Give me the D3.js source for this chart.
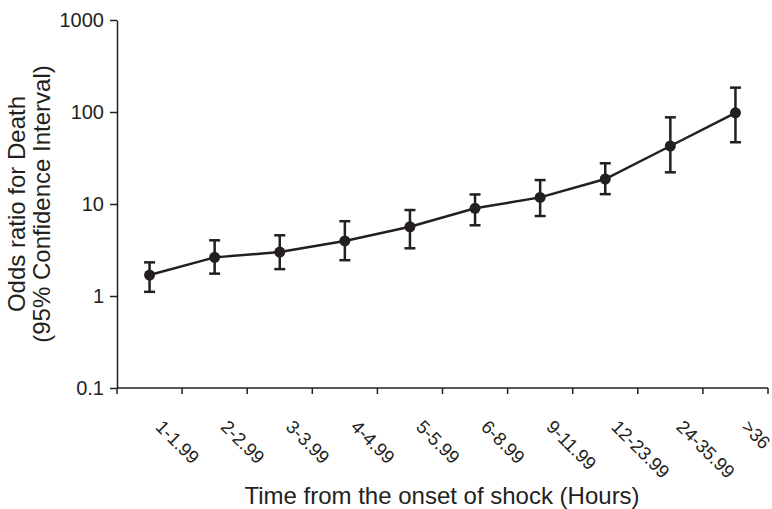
<!DOCTYPE html>
<html>
<head>
<meta charset="utf-8">
<script src="https://cdn.jsdelivr.net/npm/d3@7"></script>
<style>
  body { margin: 0; background: #fff; }
  svg { display: block; font-family: "Liberation Sans", Arial, Helvetica, sans-serif; }
  .axis path, .axis line { stroke: #231f20; stroke-width: 1.5; }
  .axis text { fill: #231f20; }
</style>
</head>
<body>
<svg width="772" height="509"></svg>
<script>
// time from onset of shock (hours)
var categories = ["1-1.99", "2-2.99", "3-3.99", "4-4.99", "5-5.99", "6-8.99", "9-11.99", "12-23.99", "24-35.99", ">36"];
// odds ratio for death with 95% CI
var oddsRatio = [1.69, 2.63, 3.0, 3.97, 5.66, 8.98, 11.8, 18.7, 42.7, 98];
var ciLow = [1.11, 1.75, 1.96, 2.45, 3.3, 5.87, 7.4, 12.8, 22.1, 46.9];
var ciHigh = [2.32, 4.03, 4.57, 6.5, 8.6, 12.7, 18.2, 27.7, 87.5, 184];
var yTicks = [0.1, 1, 10, 100, 1000];

var svg = d3.select("svg"),
    plotLeft = 117, plotRight = 768, plotTop = 20, plotBottom = 388,
    ink = "#231f20";

var x = d3.scaleBand()
    .domain(categories)
    .range([plotLeft, plotRight])
    .padding(0);

var y = d3.scaleLog()
    .domain([0.1, 1000])
    .range([plotBottom, plotTop]);

var data = categories.map(function(c, i) {
  return {cat: c, or: oddsRatio[i], lo: ciLow[i], hi: ciHigh[i]};
});

// y axis
var yAxis = svg.append("g")
    .attr("class", "axis")
    .attr("transform", "translate(" + plotLeft + ",0)")
    .call(d3.axisLeft(y)
      .tickValues(yTicks)
      .tickFormat(function(d) { return d < 1 ? d3.format(".1f")(d) : d3.format("d")(d); })
      .tickSize(7)
      .tickSizeOuter(0)
      .tickPadding(6));
yAxis.selectAll("text").style("font-size", "20px");

// x axis (ticks at band edges)
var xAxis = svg.append("g").attr("class", "axis");
xAxis.append("line")
    .attr("x1", plotLeft).attr("x2", plotRight)
    .attr("y1", plotBottom).attr("y2", plotBottom);
var edges = categories.map(function(c) { return x(c); }).concat([x.range()[1]]);
xAxis.selectAll(".tick")
  .data(edges)
  .enter().append("line")
    .attr("x1", function(d) { return d; })
    .attr("x2", function(d) { return d; })
    .attr("y1", plotBottom)
    .attr("y2", plotBottom + 6);
xAxis.selectAll(".lbl")
  .data(categories)
  .enter().append("text")
    .attr("class", "lbl")
    .attr("transform", function(d) {
      return "translate(" + (x(d) + x.bandwidth() / 2 + 5) + ",428) rotate(45)";
    })
    .attr("text-anchor", "start")
    .style("font-size", "18.5px")
    .text(function(d) { return d; });

// axis titles
svg.append("text")
    .attr("x", 442)
    .attr("y", 504)
    .attr("text-anchor", "middle")
    .attr("fill", ink)
    .style("font-size", "24px")
    .text("Time from the onset of shock (Hours)");

var yTitle = svg.append("text")
    .attr("transform", "translate(25," + ((plotTop + plotBottom) / 2) + ") rotate(-90)")
    .attr("text-anchor", "middle")
    .attr("fill", ink)
    .style("font-size", "24px");
yTitle.append("tspan").attr("x", 0).attr("dy", 0).text("Odds ratio for Death");
yTitle.append("tspan").attr("x", 0).attr("dy", 25).text("(95% Confidence Interval)");

// line
var cx = function(d) { return x(d.cat) + x.bandwidth() / 2; };
var line = d3.line()
    .x(cx)
    .y(function(d) { return y(d.or); });

svg.append("path")
    .attr("d", line(data))
    .attr("fill", "none")
    .attr("stroke", ink)
    .attr("stroke-width", 2.5);

// error bars
var eb = svg.append("g")
    .attr("stroke", ink)
    .attr("stroke-width", 2.5);
eb.selectAll(".v")
  .data(data)
  .enter().append("line")
    .attr("x1", cx).attr("x2", cx)
    .attr("y1", function(d) { return y(d.lo); })
    .attr("y2", function(d) { return y(d.hi); });
eb.selectAll(".capLo")
  .data(data)
  .enter().append("line")
    .attr("x1", function(d) { return cx(d) - 5.5; })
    .attr("x2", function(d) { return cx(d) + 5.5; })
    .attr("y1", function(d) { return y(d.lo); })
    .attr("y2", function(d) { return y(d.lo); });
eb.selectAll(".capHi")
  .data(data)
  .enter().append("line")
    .attr("x1", function(d) { return cx(d) - 5.5; })
    .attr("x2", function(d) { return cx(d) + 5.5; })
    .attr("y1", function(d) { return y(d.hi); })
    .attr("y2", function(d) { return y(d.hi); });

// points
svg.selectAll(".pt")
  .data(data)
  .enter().append("circle")
    .attr("cx", cx)
    .attr("cy", function(d) { return y(d.or); })
    .attr("r", 5.5)
    .attr("fill", ink);
</script>
</body>
</html>
